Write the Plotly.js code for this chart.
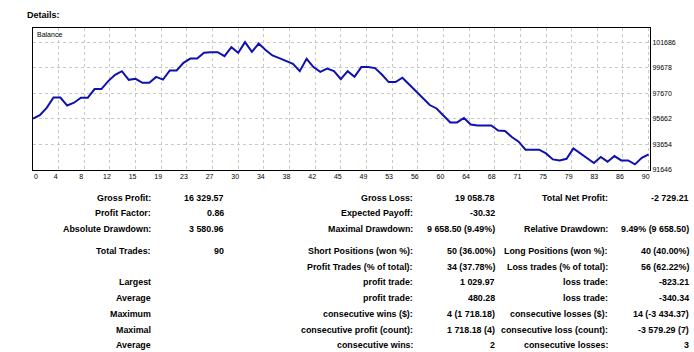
<!DOCTYPE html>
<html><head><meta charset="utf-8">
<script src="https://cdn.plot.ly/plotly-3.0.1.min.js"></script>
<style>html,body{margin:0;padding:0;background:#fff}#chart{width:694px;height:352px}</style>
</head><body><div id="chart"></div>
<script>
// ---- data ----
const balance = [
  95690, 95960, 96530, 97340, 97340, 96710, 96930, 97320, 97320, 98000,
  98000, 98630, 99120, 99410, 98730, 98810, 98490, 98490, 98960, 98750,
  99460, 99460, 100060, 100400, 100400, 100850, 100900, 100900, 100590, 101290,
  100850, 101690, 100930, 101580, 101080, 100640, 100430, 100200, 99980, 99410,
  100380, 99730, 99360, 99620, 99410, 98780, 99410, 98960, 99730, 99730,
  99650, 99150, 98550, 98550, 98890, 98360, 97840, 97320, 96750, 96480,
  95960, 95380, 95380, 95730, 95220, 95140, 95140, 95140, 94750, 94710,
  94240, 93870, 93240, 93240, 93240, 92950, 92480, 92400, 92530, 93340,
  92950, 92560, 92200, 92670, 92300, 92740, 92400, 92400, 92090, 92610,
  92870
];
const seriesName = 'Balance';
const pageTitle = 'Details:';
const xTickLabels = ['0','4','8','12','15','19','23','27','30','34','38','42','45',
                     '49','53','56','60','64','68','71','75','79','83','86','90'];
const yTickValues = [91646, 93654, 95662, 97670, 99678, 101686];

// report table (10 rows, '' = empty cell)
const col1Labels = ['Gross Profit:','Profit Factor:','Absolute Drawdown:','Total Trades:','',
                    'Largest','Average','Maximum','Maximal','Average'];
const col2Values = ['16 329.57','0.86','3 580.96','90','','','','','',''];
const col3Labels = ['Gross Loss:','Expected Payoff:','Maximal Drawdown:','Short Positions (won %):',
                    'Profit Trades (% of total):','profit trade:','profit trade:',
                    'consecutive wins ($):','consecutive profit (count):','consecutive wins:'];
const col4Values = ['19 058.78','-30.32','9 658.50 (9.49%)','50 (36.00%)','34 (37.78%)',
                    '1 029.97','480.28','4 (1 718.18)','1 718.18 (4)','2'];
const col5Labels = ['Total Net Profit:','','Relative Drawdown:','Long Positions (won %):',
                    'Loss trades (% of total):','loss trade:','loss trade:',
                    'consecutive losses ($):','consecutive loss (count):','consecutive losses:'];
const col6Values = ['-2 729.21','','9.49% (9 658.50)','40 (40.00%)','56 (62.22%)',
                    '-823.21','-340.34','14 (-3 434.37)','-3 579.29 (7)','3'];

// ---- layout helpers (pixel positions) ----
const FONT = 'Liberation Sans, Arial, sans-serif';
const PL = 33, PB = 170;                 // plot-area left / bottom in page pixels
const rowY = [198, 213, 229, 251, 267, 282, 298, 313.5, 329.5, 345];
const colRight = [152, 225, 413.5, 496, 609, 690];
const columns = [col1Labels, col2Values, col3Labels, col4Values, col5Labels, col6Values];

const annotations = [];
columns.forEach((col, c) => {
  col.forEach((txt, r) => {
    if (!txt) return;
    annotations.push({
      text: txt, xref: 'paper', yref: 'paper', x: 0, y: 0,
      xshift: colRight[c] - PL, yshift: PB - rowY[r],
      xanchor: 'right', yanchor: 'middle', showarrow: false, borderpad: 0,
      font: {family: FONT, size: 8.9, color: '#000', weight: 700}
    });
  });
});
annotations.push({
  text: pageTitle, xref: 'paper', yref: 'paper', x: 0, y: 0,
  xshift: 26 - PL, yshift: PB - 15, xanchor: 'left', yanchor: 'middle',
  showarrow: false, borderpad: 0,
  font: {family: FONT, size: 9, color: '#000', weight: 700}
});
annotations.push({
  text: seriesName, xref: 'paper', yref: 'paper', x: 0, y: 1,
  xshift: 3, yshift: -2, xanchor: 'left', yanchor: 'top',
  showarrow: false, borderpad: 0,
  font: {family: FONT, size: 7, color: '#000'}
});

const nTicks = xTickLabels.length - 1;
const lastX = balance.length - 1;
const xTickVals = xTickLabels.map((_, k) => k * lastX / nTicks);
const xTickText = xTickLabels.map((t, k) => k === 0 ? '\u00a0\u00a0\u00a0\u00a0\u00a0\u00a0' + t : t);

const trace = {
  type: 'scatter', mode: 'lines', name: seriesName,
  x: balance.map((_, i) => i), y: balance,
  line: {color: '#1010b0', width: 2}, hoverinfo: 'skip'
};

const axisCommon = {
  showgrid: true, gridcolor: '#c8c8c8', gridwidth: 1, griddash: '3px,3px',
  showline: true, mirror: true, linecolor: '#000', linewidth: 1,
  zeroline: false, ticks: '', fixedrange: true,
  tickfont: {family: FONT, size: 7, color: '#000'}
};

const layout = {
  width: 694, height: 352,
  margin: {l: PL, r: 44, t: 28, b: 352 - PB, pad: 0},
  paper_bgcolor: '#fff', plot_bgcolor: '#fff',
  showlegend: false,
  xaxis: Object.assign({}, axisCommon, {
    range: [0, lastX + 0.2], tickmode: 'array', tickvals: xTickVals, ticktext: xTickText,
    ticklabelshift: -3
  }),
  yaxis: Object.assign({}, axisCommon, {
    side: 'right', range: [91646, 102800], tickmode: 'array', tickvals: yTickValues,
    tickformat: 'd'
  }),
  annotations: annotations
};

Plotly.newPlot('chart', [trace], layout, {displayModeBar: false, staticPlot: true});
</script>
</body></html>
